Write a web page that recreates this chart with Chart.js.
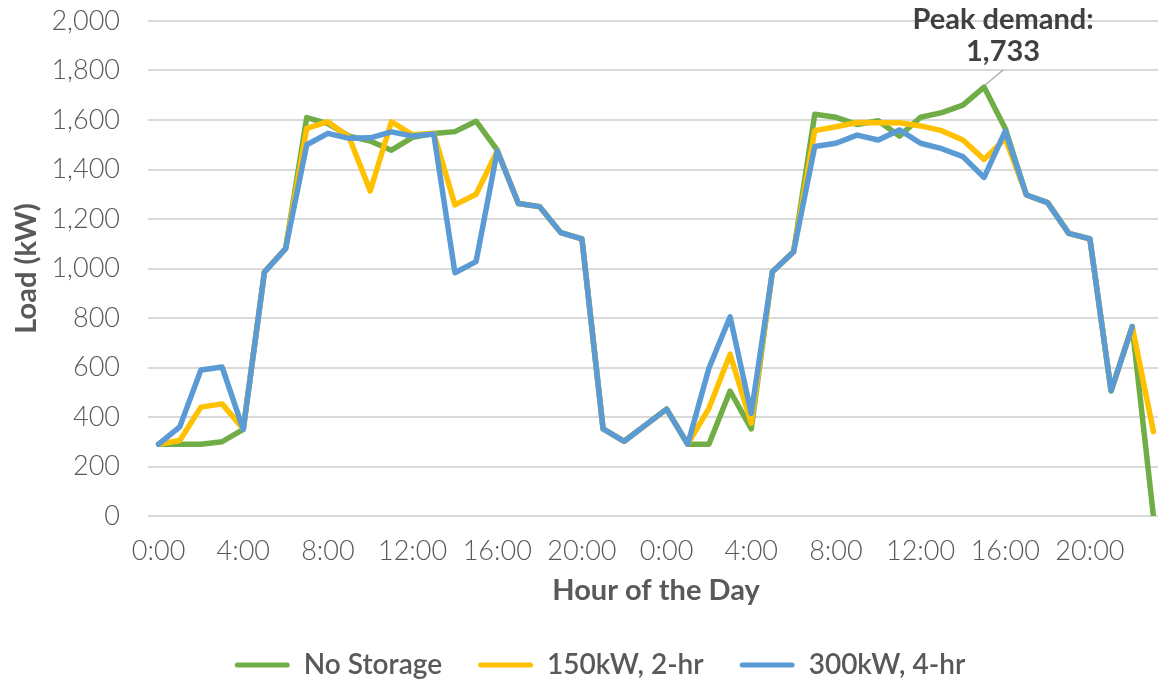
<!DOCTYPE html>
<html>
<head>
<meta charset="utf-8">
<script src="https://cdn.jsdelivr.net/npm/chart.js@4.4.1/dist/chart.umd.min.js"></script>
<style>
  html, body { margin: 0; padding: 0; background: #ffffff; overflow: hidden; }
  #wrap { width: 1158px; height: 681px; overflow: hidden; position: relative; }
  canvas { display: block; }
</style>
</head>
<body>
<div id="wrap"><canvas id="loadChart" width="1200" height="681"></canvas></div>
<script>
// Two consecutive days, hourly
const hours = [
  "0:00", "1:00", "2:00", "3:00", "4:00", "5:00", "6:00", "7:00",
  "8:00", "9:00", "10:00", "11:00", "12:00", "13:00", "14:00", "15:00",
  "16:00", "17:00", "18:00", "19:00", "20:00", "21:00", "22:00", "23:00",
  "0:00", "1:00", "2:00", "3:00", "4:00", "5:00", "6:00", "7:00",
  "8:00", "9:00", "10:00", "11:00", "12:00", "13:00", "14:00", "15:00",
  "16:00", "17:00", "18:00", "19:00", "20:00", "21:00", "22:00", "23:00"
];

// Load in kW
const noStorage = [
  290, 290, 290, 300, 350, 985, 1080, 1610,
  1585, 1535, 1515, 1478, 1530, 1545, 1553, 1595,
  1478, 1263, 1250, 1145, 1120, 352, 302, 367,
  432, 290, 290, 505, 352, 987, 1068, 1623,
  1611, 1582, 1597, 1535, 1611, 1630, 1660, 1733,
  1566, 1297, 1266, 1142, 1120, 506, 765, 0
];

const storage150kW2hr = [
  290, 305, 440, 453, 352, 985, 1080, 1566,
  1593, 1530, 1313, 1593, 1540, 1546, 1257, 1300,
  1475, 1263, 1250, 1145, 1120, 352, 302, 367,
  432, 290, 435, 654, 375, 987, 1068, 1557,
  1573, 1590, 1589, 1589, 1576, 1557, 1519, 1441,
  1525, 1297, 1266, 1142, 1120, 506, 765, 341
];

const storage300kW4hr = [
  290, 360, 590, 602, 350, 985, 1080, 1500,
  1546, 1526, 1528, 1552, 1535, 1543, 983, 1028,
  1475, 1263, 1250, 1145, 1120, 352, 302, 367,
  432, 290, 597, 805, 415, 987, 1068, 1493,
  1506, 1539, 1519, 1560, 1506, 1484, 1452, 1368,
  1555, 1297, 1266, 1142, 1120, 506, 765, null
];

const seriesNames = ["No Storage", "150kW, 2-hr", "300kW, 4-hr"];
const seriesColors = ["#70AD47", "#FFC000", "#5B9BD5"];

const FONT = "Lato, 'Open Sans', sans-serif";
const TEXT_GREY = "#595959";

// Callout over the highest point of the unmanaged load
const peakCallout = {
  id: "peakCallout",
  afterDatasetsDraw(chart) {
    const i = noStorage.indexOf(Math.max(...noStorage));
    const pt = chart.getDatasetMeta(0).data[i];
    const ctx = chart.ctx;
    ctx.save();
    ctx.strokeStyle = "#a6a6a6";
    ctx.lineWidth = 1.2;
    ctx.beginPath();
    ctx.moveTo(pt.x + 1, pt.y - 2);
    ctx.lineTo(pt.x + 19, pt.y - 17);
    ctx.stroke();
    ctx.fillStyle = "#404040";
    ctx.font = "bold 29px " + FONT;
    ctx.textAlign = "center";
    ctx.textBaseline = "alphabetic";
    ctx.fillText("Peak demand:", pt.x + 19, pt.y - 58);
    ctx.fillText(noStorage[i].toLocaleString("en-US"), pt.x + 19, pt.y - 26);
    ctx.restore();
  }
};

function lineSeries(idx, data, order) {
  return {
    label: seriesNames[idx],
    data: data,
    borderColor: seriesColors[idx],
    backgroundColor: seriesColors[idx],
    borderWidth: 5.5,
    pointRadius: 0,
    pointHoverRadius: 0,
    tension: 0,
    borderJoinStyle: "round",
    borderCapStyle: "round",
    order: order
  };
}

// Fixed axis thickness with no extra end padding
function fixAxis(size) {
  return function (s) {
    if (s.isHorizontal()) { s.height = size; } else { s.width = size; }
    s.paddingTop = 0;
    s.paddingBottom = 0;
  };
}

new Chart(document.getElementById("loadChart"), {
  type: "line",
  data: {
    labels: hours,
    datasets: [
      lineSeries(0, noStorage, 2),
      lineSeries(1, storage150kW2hr, 1),
      lineSeries(2, storage300kW4hr, 0)
    ]
  },
  options: {
    responsive: false,
    animation: false,
    devicePixelRatio: 1,
    layout: { autoPadding: false, padding: { top: 21, bottom: -8, left: 0, right: 0 } },
    plugins: {
      tooltip: { enabled: false },
      legend: {
        position: "bottom",
        labels: {
          color: TEXT_GREY,
          font: { family: FONT, size: 28, weight: "600" },
          boxWidth: 55,
          boxHeight: 5,
          useBorderRadius: true,
          borderRadius: 2.5,
          padding: 36,
          sort: (a, b) => a.datasetIndex - b.datasetIndex,
          generateLabels(chart) {
            const items = Chart.defaults.plugins.legend.labels.generateLabels(chart);
            items.forEach(it => { it.lineWidth = 0; it.fillStyle = it.strokeStyle; });
            return items;
          }
        }
      }
    },
    scales: {
      x: {
        type: "category",
        offset: true,
        grid: { display: false, drawTicks: false },
        border: { display: false },
        ticks: {
          autoSkip: false,
          maxRotation: 0,
          minRotation: 0,
          padding: 19,
          color: TEXT_GREY,
          font: { family: FONT, size: 27, weight: "300" },
          callback: (v, i) => (i % 4 === 0 ? hours[i] : "")
        },
        title: {
          display: true,
          text: "Hour of the Day",
          color: TEXT_GREY,
          font: { family: FONT, size: 29, weight: "bold" },
          padding: { top: 0, bottom: 7 }
        },
        afterFit: fixAxis(99)
      },
      y: {
        min: 0,
        max: 2000,
        ticks: {
          stepSize: 200,
          padding: 28,
          color: TEXT_GREY,
          font: { family: FONT, size: 27, weight: "300" },
          callback: v => Number(v).toLocaleString("en-US")
        },
        grid: { color: "#d9d9d9", lineWidth: 2, drawTicks: false },
        border: { display: false },
        title: {
          display: true,
          text: "Load (kW)",
          color: TEXT_GREY,
          font: { family: FONT, size: 29, weight: "bold" },
          padding: { top: 9, bottom: 0 }
        },
        afterFit: fixAxis(148)
      },
      yRightMargin: {
        type: "linear",
        position: "right",
        display: true,
        grid: { display: false, drawTicks: false },
        ticks: { display: false },
        border: { display: false },
        afterFit: fixAxis(36)
      }
    }
  },
  plugins: [peakCallout]
});
</script>
</body>
</html>
